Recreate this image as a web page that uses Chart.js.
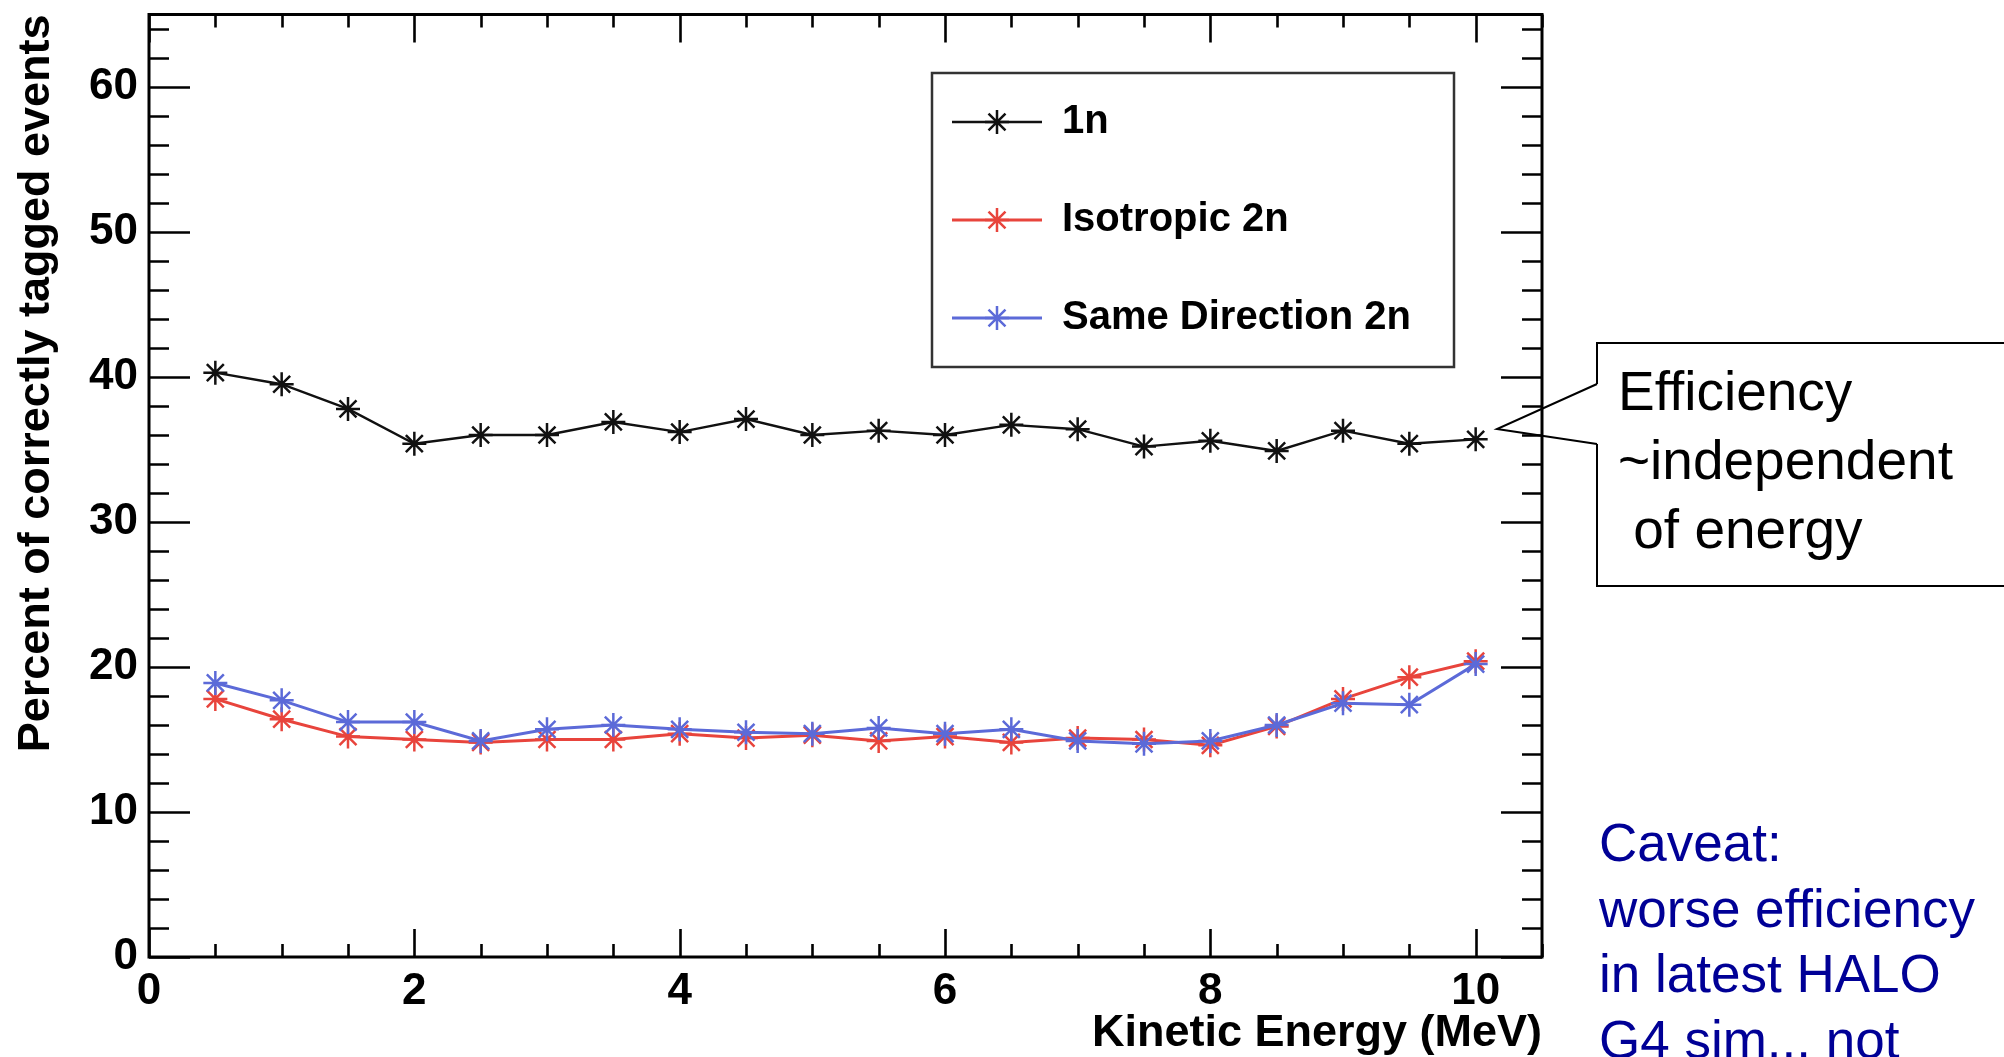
<!DOCTYPE html>
<html>
<head>
<meta charset="utf-8">
<title>Tagging efficiency vs kinetic energy</title>
<script src="https://cdn.jsdelivr.net/npm/chart.js@4/dist/chart.umd.min.js"></script>
<style>
  html, body { margin: 0; padding: 0; background: #fff; overflow: hidden; }
  #chart { display: block; }
</style>
</head>
<body>
<canvas id="chart" width="2004" height="1057"></canvas>
<script>
// ── DATA ────────────────────────────────────────────────────

const energies = [0.5, 1, 1.5, 2, 2.5, 3, 3.5, 4, 4.5, 5, 5.5, 6, 6.5, 7, 7.5, 8, 8.5, 9, 9.5, 10];

const oneN        = [40.3, 39.5, 37.8, 35.4, 36.0, 36.0, 36.9, 36.2, 37.1, 36.0, 36.3, 36.0, 36.7, 36.4, 35.2, 35.6, 34.9, 36.3, 35.4, 35.7];
const isotropic2n = [17.8, 16.4, 15.2, 15.0, 14.8, 15.0, 15.0, 15.4, 15.1, 15.3, 14.9, 15.2, 14.8, 15.1, 15.0, 14.6, 15.9, 17.8, 19.3, 20.4];
const sameDir2n   = [18.9, 17.7, 16.2, 16.2, 14.9, 15.7, 16.0, 15.7, 15.5, 15.4, 15.8, 15.4, 15.7, 14.9, 14.7, 14.9, 16.0, 17.5, 17.4, 20.2];

const seriesLabels = ['1n', 'Isotropic 2n', 'Same Direction 2n'];
const seriesColors = ['#111111', '#e8443c', '#5c6ad8'];

const xTickLabels = [0, 2, 4, 6, 8, 10];
const yTickLabels = [0, 10, 20, 30, 40, 50, 60];

const calloutLines = ['Efficiency', '~independent', ' of energy'];
const caveatLines  = ['Caveat:', 'worse efficiency', 'in latest HALO', 'G4 sim... not'];


// ── STYLE ───────────────────────────────────────────────────

const FONT = '"Liberation Sans", Arial, Helvetica, sans-serif';
const X_MINOR = 0.5, X_MAJOR = 2;
const Y_MINOR = 2,   Y_MAJOR = 10;
const STAR_R = 12;

Chart.defaults.font.family = FONT;
Chart.defaults.color = '#000';

const pts = vals => energies.map((e, i) => ({ x: e, y: vals[i] }));

function series(i, vals, width, order) {
  return {
    label: seriesLabels[i],
    data: pts(vals),
    borderColor: seriesColors[i],
    backgroundColor: seriesColors[i],
    borderWidth: width,
    pointStyle: 'star',
    pointRadius: STAR_R,
    pointBorderWidth: 2.5,
    pointBorderColor: seriesColors[i],
    tension: 0,
    order: order
  };
}


// ── FRAME + INSIDE TICKS (ROOT style) ──────────────────────

const frameTicks = {
  id: 'frameTicks',
  afterDraw(chart) {
    const { ctx, chartArea: a, scales: { x, y } } = chart;
    ctx.save();
    ctx.strokeStyle = '#000';
    ctx.lineWidth = 2.6;
    ctx.beginPath();
    for (let v = x.min; v <= x.max + 1e-9; v += X_MINOR) {
      const px = Math.round(x.getPixelForValue(v)) + 0.5;
      const len = Math.abs(v % X_MAJOR) < 1e-9 ? 28 : 13;
      ctx.moveTo(px, a.bottom); ctx.lineTo(px, a.bottom - len);
      ctx.moveTo(px, a.top);    ctx.lineTo(px, a.top + len);
    }
    for (let v = y.min; v <= y.max + 1e-9; v += Y_MINOR) {
      const py = Math.round(y.getPixelForValue(v)) + 0.5;
      const len = Math.abs(v % Y_MAJOR) < 1e-9 ? 41 : 20;
      ctx.moveTo(a.left, py);  ctx.lineTo(a.left + len, py);
      ctx.moveTo(a.right, py); ctx.lineTo(a.right - len, py);
    }
    ctx.stroke();
    ctx.lineWidth = 3;
    ctx.strokeRect(a.left, a.top, a.right - a.left, a.bottom - a.top);
    ctx.restore();
  }
};


// ── LEGEND BOX ──────────────────────────────────────────────

const legendBox = {
  id: 'legendBox',
  afterDraw(chart) {
    const { ctx } = chart;
    const box = { left: 932, top: 73, right: 1454, bottom: 367 };
    const rowH = (box.bottom - box.top) / seriesLabels.length;
    ctx.save();
    ctx.fillStyle = '#fff';
    ctx.fillRect(box.left, box.top, box.right - box.left, box.bottom - box.top);
    ctx.strokeStyle = '#333';
    ctx.lineWidth = 2.5;
    ctx.strokeRect(box.left, box.top, box.right - box.left, box.bottom - box.top);

    seriesLabels.forEach((label, i) => {
      const cy = box.top + rowH * (i + 0.5);
      const col = seriesColors[i];
      ctx.strokeStyle = col;
      ctx.fillStyle = col;
      ctx.lineWidth = i === 0 ? 2.4 : 3;
      ctx.beginPath();
      ctx.moveTo(952, cy); ctx.lineTo(1042, cy);
      ctx.stroke();
      ctx.lineWidth = 2.5;
      Chart.helpers.drawPoint(ctx, { pointStyle: 'star', radius: STAR_R, borderWidth: 2.5, rotation: 0 }, 997, cy);

      ctx.fillStyle = '#000';
      ctx.font = 'bold 40px ' + FONT;
      ctx.textBaseline = 'middle';
      ctx.textAlign = 'left';
      ctx.fillText(label, 1062, cy);
    });
    ctx.restore();
  }
};


// ── SIDE NOTES ──────────────────────────────────────────────

const sideNotes = {
  id: 'sideNotes',
  afterDraw(chart) {
    const { ctx } = chart;
    ctx.save();

    // callout box with pointer towards the 1n curve
    ctx.strokeStyle = '#000';
    ctx.lineWidth = 2;
    ctx.beginPath();
    ctx.moveTo(1597, 384);
    ctx.lineTo(1597, 343);
    ctx.lineTo(2010, 343);
    ctx.lineTo(2010, 586);
    ctx.lineTo(1597, 586);
    ctx.lineTo(1597, 444);
    ctx.stroke();
    ctx.beginPath();
    ctx.moveTo(1597, 384);
    ctx.lineTo(1497, 429);
    ctx.lineTo(1597, 444);
    ctx.stroke();

    ctx.fillStyle = '#000';
    ctx.font = '55px ' + FONT;
    ctx.textBaseline = 'alphabetic';
    ctx.textAlign = 'left';
    calloutLines.forEach((t, i) => ctx.fillText(t, 1618, 410 + i * 69));

    // caveat text, bottom right
    ctx.fillStyle = '#000096';
    ctx.font = '53px ' + FONT;
    caveatLines.forEach((t, i) => ctx.fillText(t, 1599, 861 + i * 65.7));

    ctx.restore();
  }
};


// ── CHART ───────────────────────────────────────────────────

const tickFont = { family: FONT, size: 44, weight: 'bold' };
const titleFont = { family: FONT, size: 45, weight: 'bold' };

new Chart(document.getElementById('chart'), {
  type: 'line',
  data: {
    datasets: [
      series(0, oneN, 2.4, 2),
      series(1, isotropic2n, 3, 1),
      series(2, sameDir2n, 3, 0)
    ]
  },
  options: {
    responsive: false,
    animation: false,
    devicePixelRatio: 1,
    layout: { padding: { left: 0, top: 13, right: 462, bottom: 0 } },
    plugins: {
      legend: { display: false },
      tooltip: { enabled: false }
    },
    scales: {
      x: {
        type: 'linear',
        min: 0,
        max: 10.5,
        afterFit: s => { s.height = 100; s.paddingLeft = 0; s.paddingRight = 0; },
        afterBuildTicks: s => { s.ticks = xTickLabels.map(v => ({ value: v })); },
        grid: { display: false, drawTicks: false },
        border: { display: false },
        ticks: { font: tickFont, color: '#000', padding: 8, maxRotation: 0 },
        title: {
          display: true,
          text: 'Kinetic Energy (MeV)',
          align: 'end',
          font: titleFont,
          color: '#000',
          padding: { top: 0, bottom: -4 }
        }
      },
      y: {
        type: 'linear',
        min: 0,
        max: 65,
        afterFit: s => { s.width = 149; s.paddingTop = 0; s.paddingBottom = 0; },
        afterBuildTicks: s => { s.ticks = yTickLabels.map(v => ({ value: v })); },
        grid: { display: false, drawTicks: false },
        border: { display: false },
        ticks: { font: tickFont, color: '#000', padding: 11 },
        title: {
          display: true,
          text: 'Percent of correctly tagged events',
          align: 'end',
          font: titleFont,
          color: '#000',
          padding: { top: 10, bottom: 0 }
        }
      }
    }
  },
  plugins: [frameTicks, legendBox, sideNotes]
});
</script>
</body>
</html>
